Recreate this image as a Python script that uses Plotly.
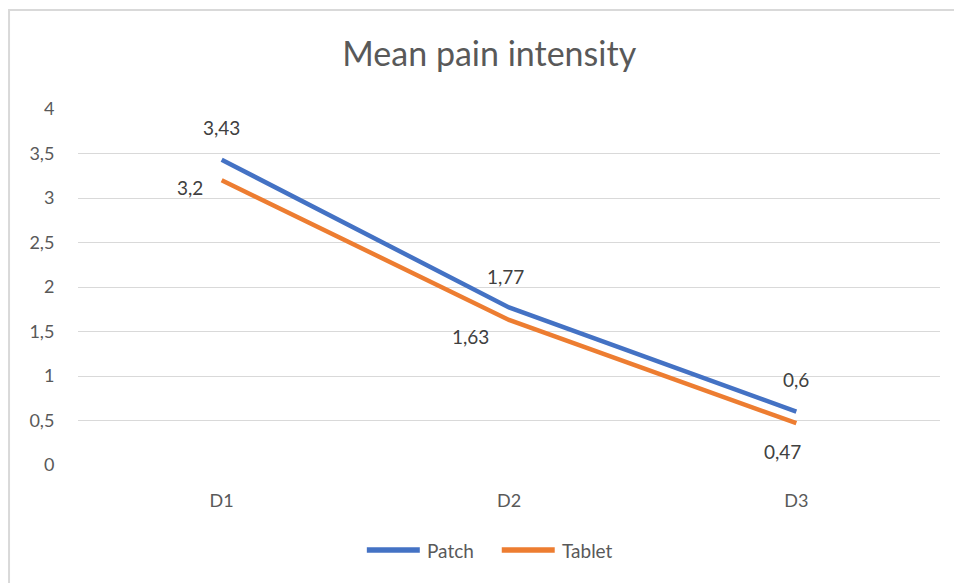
import plotly.graph_objects as go

categories = ["D1", "D2", "D3"]
patch = [3.43, 1.77, 0.6]
tablet = [3.2, 1.63, 0.47]
patch_labels = ["3,43", "1,77", "0,6"]
tablet_labels = ["3,2", "1,63", "0,47"]
y_ticks = [0, 0.5, 1, 1.5, 2, 2.5, 3, 3.5, 4]
series_names = ["Patch", "Tablet"]
series_colors = ["#4472C4", "#ED7D31"]

FONT = "Lato"
GREY = "#595959"
OFF = 8  # page body margin

# plot area in screen pixels
X0, X1, Y0, Y1 = 78, 940.5, 109, 465
PW = X1 - X0
PH = Y1 - Y0


def px(x):
    return (x - X0) / PW


def py(y):
    return (Y1 - y) / PH


fig = go.Figure()
for name, vals, col in zip(series_names, [patch, tablet], series_colors):
    fig.add_trace(go.Scatter(x=categories, y=vals, mode="lines", name=name,
                             line=dict(color=col, width=4.5), showlegend=False))

# data labels
p_shift = [(0, 32), (-4, 31), (0, 32)]
t_shift = [(-32, -7), (-39, -17), (-14, -28)]
for i, c in enumerate(categories):
    fig.add_annotation(x=c, y=patch[i], text=patch_labels[i], showarrow=False,
                       xshift=p_shift[i][0], yshift=p_shift[i][1],
                       font=dict(family=FONT, size=19, color="#404040"))
    fig.add_annotation(x=c, y=tablet[i], text=tablet_labels[i], showarrow=False,
                       xshift=t_shift[i][0], yshift=t_shift[i][1],
                       font=dict(family=FONT, size=19, color="#404040"))

# outer border
fig.add_shape(type="rect", xref="paper", yref="paper",
              x0=px(9), x1=px(1000), y0=py(700), y1=py(10),
              line=dict(color="#D9D9D9", width=2), layer="below")

# legend (custom, wide line symbols)
leg = [(367, 420, 425), (502, 555, 560)]
for (a, b, t), name, col in zip(leg, series_names, series_colors):
    fig.add_shape(type="line", xref="paper", yref="paper",
                  x0=px(a), x1=px(b), y0=py(550), y1=py(550),
                  line=dict(color=col, width=5.5))
    fig.add_annotation(xref="paper", yref="paper", x=px(t), y=py(550),
                       xanchor="left", yanchor="middle", text=name, showarrow=False,
                       font=dict(family=FONT, size=19, color=GREY))

fig.update_layout(
    width=962, height=583,
    margin=dict(l=X0 - OFF, r=962 - X1 + OFF, t=Y0 - OFF, b=583 - Y1 + OFF),
    paper_bgcolor="white", plot_bgcolor="white",
    separators=", ",
    showlegend=False,
    title=dict(text="Mean pain intensity", x=px(489.5), xref="paper", xanchor="center",
               y=1 - (54 - OFF) / 583, yanchor="middle",
               font=dict(family=FONT, size=34, color=GREY)),
    font=dict(family=FONT, color=GREY),
)
fig.update_xaxes(range=[-0.5, 2.5], showgrid=False, showline=False, zeroline=False,
                 ticks="outside", ticklen=19, tickcolor="rgba(0,0,0,0)",
                 tickfont=dict(family=FONT, size=18, color=GREY))
fig.update_yaxes(range=[0, 4], tickvals=y_ticks, showgrid=True, gridcolor="#D9D9D9",
                 gridwidth=1, zeroline=False, showline=False,
                 ticks="outside", ticklen=19, tickcolor="rgba(0,0,0,0)",
                 tickfont=dict(family=FONT, size=18, color=GREY))

fig.write_html("out.html")
